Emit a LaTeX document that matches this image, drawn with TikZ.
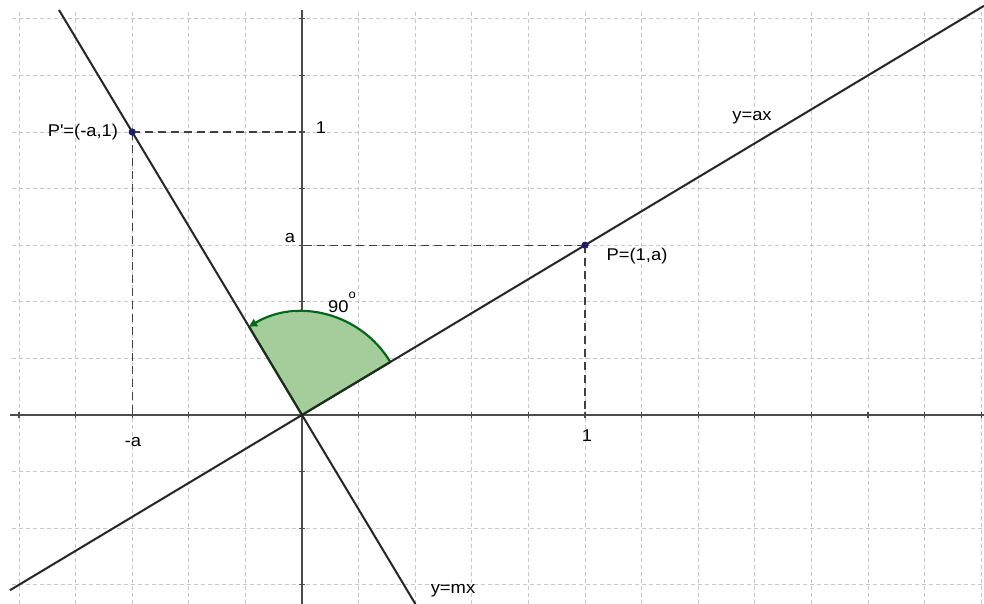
\documentclass[tikz,border=0pt]{standalone}
\usepackage{fontspec}
\setmainfont{Liberation Sans}[FakeStretch=1.08]
\usetikzlibrary{arrows.meta}
\definecolor{sectorfill}{RGB}{165,205,155}
\definecolor{sectorline}{RGB}{0,105,20}
\definecolor{dotblue}{RGB}{30,30,110}
\begin{document}
\begin{tikzpicture}[x=1pt,y=-1pt,
  gridline/.style={draw=black!22, dash pattern=on 4pt off 3pt, line width=0.9pt},
  axisline/.style={draw=black!70, line width=1.5pt},
  tickline/.style={draw=black!70, line width=1.1pt},
  graphline/.style={draw=black!85, line width=2pt},
  helper/.style={draw=black!75, dash pattern=on 8pt off 5pt, line width=1.1pt},
  arcline/.style={draw=sectorline, line width=2.2pt},
  lbl/.style={font=\fontsize{17}{20}\selectfont, inner sep=0pt, anchor=base},
  ptdot/.style={circle, fill=dotblue, inner sep=0pt, minimum size=7pt}]
\fill[white] (0,0) rectangle (984,604);
\useasboundingbox (0,0) rectangle (984,604);
% grid
\foreach \k in {-5,...,12} \draw[gridline] ({302+56.6*\k},12) -- ({302+56.6*\k},604);
\foreach \k in {-3,...,7} \draw[gridline] (12,{415-56.6*\k}) -- (984,{415-56.6*\k});
% axes
\coordinate (O) at (302,415);
\coordinate (xl) at (10,415);
\coordinate (xr) at (984,415);
\coordinate (yt) at (302,10);
\coordinate (yb) at (302,604);
\draw[axisline] (xl) -- (xr);
\draw[axisline] (yt) -- (yb);
\foreach \k in {-5,...,-1,1,2,...,12} \draw[tickline] ({302+56.6*\k},412) -- ++(0,6);
\foreach \k in {-3,...,-1,1,2,...,7} \draw[tickline] (299,{415-56.6*\k}) -- ++(6,0);
% angle sector
\fill[sectorfill] (O) -- ++(-30.96:103) arc[start angle=-30.96, end angle=-120.96, radius=103] -- cycle;
\draw[arcline] (O) -- ++(-30.96:103);
\draw[arcline] (O) -- ++(-120.96:103);
\draw[arcline, -{Triangle[length=8pt,width=8pt]}] (O) ++(-30.96:103) arc[start angle=-30.96, end angle=-120.96, radius=103];
% helper dashed lines
\node[ptdot] (P) at (585,245.2) {};
\node[ptdot] (Pp) at (132.2,132) {};
\coordinate (Pa) at (302,245.2);
\coordinate (Pb) at (585,415);
\coordinate (Pc) at (302,132);
\coordinate (Pd) at (132.2,415);
\draw[helper] (P.center) -- (Pa);
\draw[helper] (P.center) -- (Pb);
\draw[helper] (Pp.center) -- (Pc);
\draw[helper] (Pp.center) -- (Pd);
% lines
\coordinate (a1) at (10,590.2);
\coordinate (a2) at (984,5.8);
\coordinate (m1) at (59,10);
\coordinate (m2) at (415.4,604);
\draw[graphline] (a1) -- (a2);
\draw[graphline] (m1) -- (m2);
\node[ptdot] at (P) {};
\node[ptdot] at (Pp) {};
% labels
\node[lbl] (lPp) at (83,137) {P\textquotesingle=(-a,1)};
\node[lbl] (l1y) at (321,134) {1};
\node[lbl] (la) at (290,242) {a};
\node[lbl] (l90) at (342,312) {90\raisebox{14pt}{\fontsize{12}{12}\selectfont o}};
\node[lbl] (lP) at (637,260) {P=(1,a)};
\node[lbl] (lax) at (752,121) {y=ax};
\node[lbl] (lma) at (133,446) {-a};
\node[lbl] (l1x) at (587,441) {1};
\node[lbl] (lmx) at (453,593) {y=mx};
\end{tikzpicture}
\end{document}
